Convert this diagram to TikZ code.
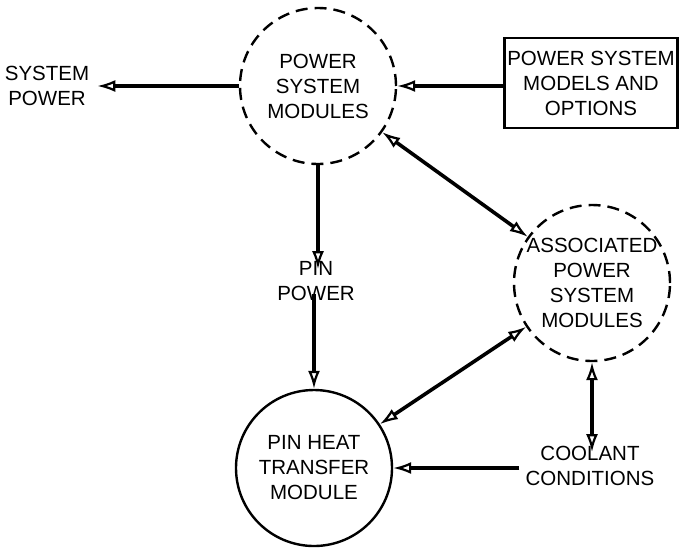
\documentclass[tikz,border=0pt]{standalone}
\usepackage{fontspec}
\setmainfont{Liberation Sans}
\usetikzlibrary{arrows.meta}
\begin{document}
\begin{tikzpicture}[x=1pt,y=-1pt,
  lbl/.style={align=center,font=\fontsize{20.5}{25}\selectfont,inner sep=0pt},
  dcirc/.style={circle,draw,line width=2.4pt,dash pattern=on 12pt off 7pt,minimum size=156pt,inner sep=0pt},
  scirc/.style={circle,draw,line width=2.4pt,minimum size=156pt,inner sep=0pt},
  obox/.style={draw,line width=2.4pt,minimum width=173pt,minimum height=90pt,inner sep=0pt},
  tip/.tip={Latex[open,length=18pt,width=12pt,line width=2.2pt]},
  arr/.style={line width=3.6pt,-tip},
  darr/.style={line width=3.6pt,tip-tip}
]
\useasboundingbox (0,0) rectangle (684,547);
\node[dcirc] (psm) at (318,86) {};
\node[lbl] at (psm.center) {POWER\\SYSTEM\\MODULES};
\node[dcirc] (aps) at (592,283) {};
\node[lbl] at (aps.center) {ASSOCIATED\\POWER\\SYSTEM\\MODULES};
\node[scirc] (pht) at (314,468) {};
\node[lbl] at (pht.center) {PIN HEAT\\TRANSFER\\MODULE};
\node[obox,lbl,minimum width=173pt,minimum height=90pt] (box) at (591,83) {POWER SYSTEM\\MODELS AND\\OPTIONS};
\node[lbl] (sp) at (47,86) {SYSTEM\\POWER};
\node[lbl] (pp) at (316,281) {PIN\\POWER};
\node[lbl] (cc) at (590,466) {COOLANT\\CONDITIONS};
\draw[arr] (psm.west) -- ([xshift=8pt]sp.east |- psm.west);
\draw[arr] (box.west |- psm.east) -- (psm.east);
\draw[arr] (psm.south) -- ([yshift=-8pt]psm.south |- pp.north);
\draw[arr] ([yshift=7pt]pht.north |- pp.south) -- (pht.north);
\draw[darr] (psm) -- (aps);
\draw[darr] (pht) -- (aps);
\draw[darr] (aps.south) -- ([yshift=-6pt]aps.south |- cc.north);
\draw[arr] ([xshift=-6pt]cc.west |- pht.east) -- (pht.east);
\end{tikzpicture}
\end{document}
